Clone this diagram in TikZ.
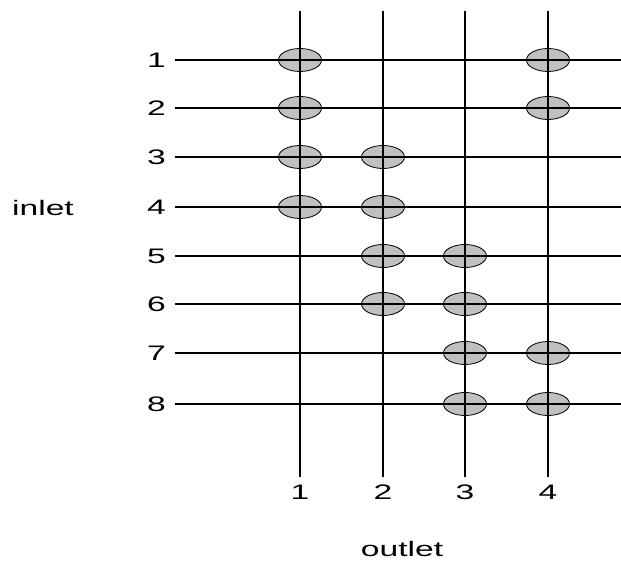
\documentclass[tikz,border=0pt]{standalone}
\usepackage{fontspec}
\setmainfont{Liberation Sans}
\newfontfamily\widefont[FakeStretch=1.6]{Liberation Sans}
\usetikzlibrary{shapes.geometric}
\begin{document}
\begin{tikzpicture}[x=1pt,y=-1pt,
  xpt/.style={ellipse,draw=black,line width=0.8pt,fill={rgb,255:red,192;green,192;blue,192},minimum width=43pt,minimum height=23pt,inner sep=0pt},
  lbl/.style={font=\widefont\fontsize{21}{23}\selectfont,inner sep=0pt},
  hline/.style={line width=1.2pt},
  vline/.style={line width=2pt}]
\useasboundingbox (0,0) rectangle (621,561);
% ellipses (crosspoints)
\foreach \r/\y/\a/\b in {1/60/1/4,2/108/1/4,3/157/1/2,4/207/1/2,5/256/2/3,6/304/2/3,7/353/3/4,8/404/3/4}{
  \foreach \c in {\a,\b}{
    \pgfmathsetmacro{\xx}{ifthenelse(\c==1,300,ifthenelse(\c==2,383,ifthenelse(\c==3,465,548)))}
    \node[xpt] (x\r\c) at (\xx,\y) {};
  }
}
% inlet rows
\foreach \r/\y in {1/60,2/108,3/157,4/207,5/256,6/304,7/353,8/404}{
  \node[lbl,anchor=east] (in\r) at (166,\y) {\r};
  \coordinate (hs\r) at (175,\y);
  \coordinate (he\r) at (621,\y);
  \draw[hline] (hs\r) -- (he\r);
}
% outlet columns
\foreach \c/\x in {1/300,2/383,3/465,4/548}{
  \coordinate (vs\c) at (\x,11);
  \coordinate (ve\c) at (\x,477);
  \draw[vline] (vs\c) -- (ve\c);
  \node[lbl] (out\c) at (\x,492) {\c};
}
\node[lbl] (inlet) at (43,208) {inlet};
\node[lbl] (outlet) at (402,549) {outlet};
\end{tikzpicture}
\end{document}
